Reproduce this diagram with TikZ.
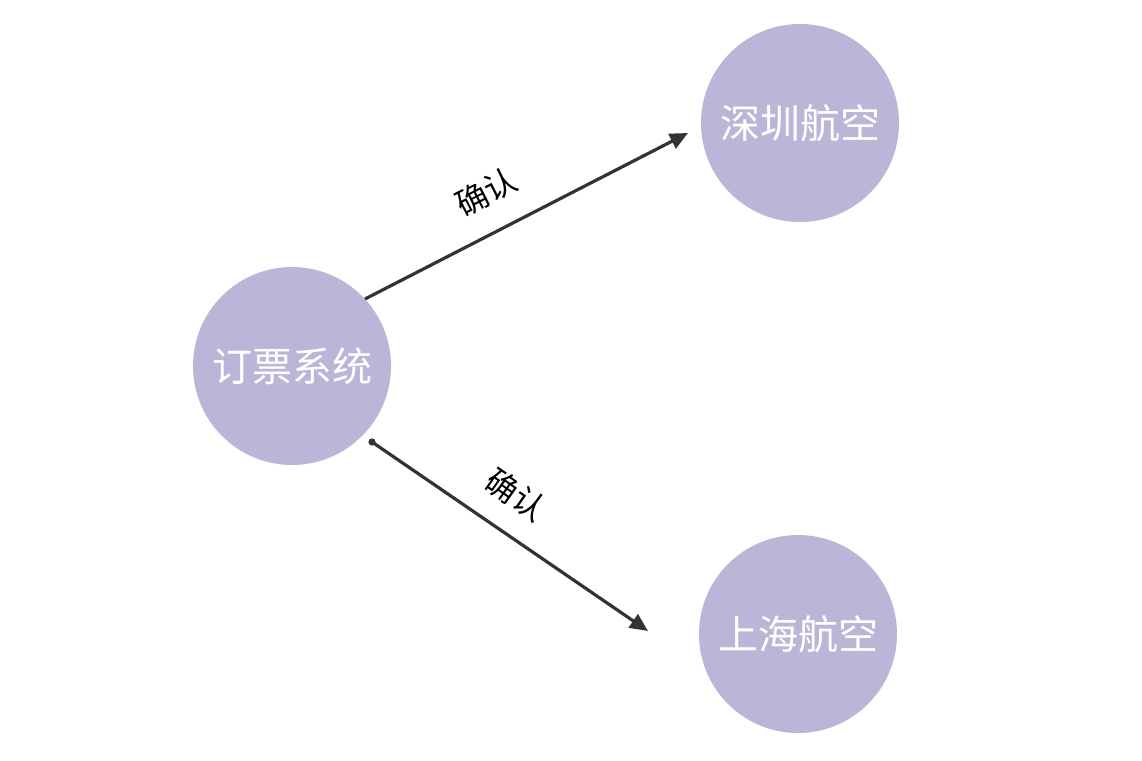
\documentclass[tikz,border=0pt]{standalone}
\usepackage{fontspec}
\newfontfamily\cjk{Noto Sans CJK SC}
\usetikzlibrary{arrows.meta}
\definecolor{lav}{HTML}{BDB5D8}
\definecolor{edge}{HTML}{333333}
\tikzset{
  sysnode/.style={circle, fill=lav, draw=none, minimum size=198pt, inner sep=0pt,
    text=white, font=\cjk\fontsize{40}{44}\selectfont},
  conn/.style={draw=edge, line width=3.2pt, -{Triangle[length=18pt,width=16pt]}},
  lbl/.style={font=\cjk\fontsize{32}{34}\selectfont, text=black, inner sep=0pt}
}
\begin{document}
\begin{tikzpicture}[x=1pt,y=-1pt]
\useasboundingbox (0,0) rectangle (1142,760);
\node[sysnode] (a) at (292,366) {订票系统};
\node[sysnode] (b) at (800,123) {深圳航空};
\node[sysnode] (c) at (798,634) {上海航空};
\coordinate (a1) at (365,299);
\coordinate (b1) at (688,133);
\coordinate (a2) at (372,442);
\coordinate (c1) at (648,631);
\draw[conn] (a1) -- (b1);
\fill[edge] (a2) circle (3.6pt);
\draw[conn] (a2) -- (c1);
\node[lbl, rotate=27] (l1) at (486,192) {确认};
\node[lbl, rotate=-35] (l2) at (516,495) {确认};
\end{tikzpicture}
\end{document}
